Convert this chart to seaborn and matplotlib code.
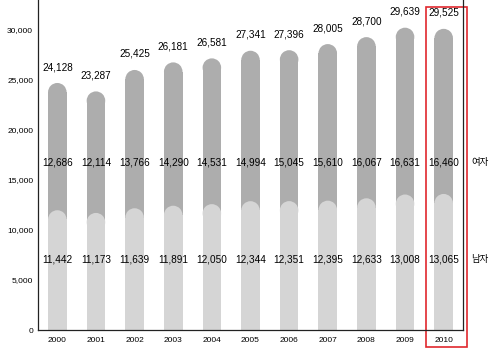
import matplotlib
matplotlib.use('Agg')
import pandas as pd
import matplotlib.pyplot as plt
import matplotlib.transforms as mtransforms
from matplotlib.patches import Ellipse, Rectangle
import seaborn as sns

# data
years = ['2000', '2001', '2002', '2003', '2004', '2005', '2006', '2007', '2008', '2009', '2010']
total = [24128, 23287, 25425, 26181, 26581, 27341, 27396, 28005, 28700, 29639, 29525]
female = [12686, 12114, 13766, 14290, 14531, 14994, 15045, 15610, 16067, 16631, 16460]
male = [11442, 11173, 11639, 11891, 12050, 12344, 12351, 12395, 12633, 13008, 13065]
yticks = [0, 5000, 10000, 15000, 20000, 25000, 30000]
highlight = '2010'

df = pd.DataFrame({'year': years, 'total': total, 'female': female, 'male': male})

sns.set_style('white')
plt.rcParams['font.family'] = ['Liberation Sans', 'Noto Sans CJK KR', 'DejaVu Sans']
plt.rcParams['text.color'] = 'black'
plt.rcParams['xtick.labelcolor'] = 'black'
plt.rcParams['ytick.labelcolor'] = 'black'

fig = plt.figure(figsize=(5, 3.56), dpi=100)
ax = fig.add_axes([0.076, 0.073, 0.85, 0.927])

dark = '#adadad'
light = '#d5d5d5'
ymax = 32900
sns.barplot(data=df, x='year', y='total', color=dark, width=0.48, saturation=1, ax=ax)
sns.barplot(data=df, x='year', y='male', color=light, width=0.48, saturation=1, ax=ax)

ax.set_xlim(-0.5, len(years) - 0.5)
ax.set_ylim(0, ymax)

# rounded tops: shorten each bar and put a circular cap on it
bbox = ax.get_window_extent(fig.canvas.get_renderer())
aspect = (bbox.width / len(years)) / (bbox.height / ymax)
extra = 500
for p in list(ax.patches):
    x0, w, h = p.get_x(), p.get_width(), p.get_height()
    col = p.get_facecolor()
    ry = (w / 2) * aspect
    top = h + extra
    p.set_height(top - ry)
    p.set_edgecolor('none')
    ax.add_patch(Ellipse((x0 + w / 2, top - ry), w, 2 * ry, facecolor=col,
                         edgecolor='none', zorder=p.get_zorder()))

# value labels
for i in range(len(years)):
    ax.annotate(f'{total[i]:,}', (i, total[i] + extra), xytext=(0, 11.5),
                textcoords='offset points', ha='center', va='center', fontsize=7.2)
    ax.text(i, 16650, f'{female[i]:,}', ha='center', va='center', fontsize=7.2)
    ax.text(i, 7000, f'{male[i]:,}', ha='center', va='center', fontsize=7.2)

side = mtransforms.blended_transform_factory(ax.transAxes, ax.transData)
ax.text(1.019, 16650, '여자', transform=side, ha='left', va='center', fontsize=6.8, clip_on=False)
ax.text(1.019, 7000, '남자', transform=side, ha='left', va='center', fontsize=6.8, clip_on=False)

# highlight box
hi = years.index(highlight)
trans = mtransforms.blended_transform_factory(ax.transData, ax.transAxes)
ax.add_patch(Rectangle((hi - 0.47, -0.052), 1.08, 1.031, transform=trans,
                       fill=False, edgecolor='#e0282e', linewidth=1.2, clip_on=False))

ax.set_yticks(yticks)
ax.set_yticklabels([f'{v:,}' for v in yticks])
ax.tick_params(axis='y', direction='in', length=6.5, width=0.8, color='#222222', pad=3.5, labelsize=6)
ax.tick_params(axis='x', length=0, pad=5, labelsize=6)
ax.set_xlabel('')
ax.set_ylabel('')
for s in ['left', 'bottom', 'right']:
    ax.spines[s].set_color('#222222')
    ax.spines[s].set_linewidth(0.9)
ax.spines['top'].set_visible(False)

fig.savefig('out.png', dpi=100)
